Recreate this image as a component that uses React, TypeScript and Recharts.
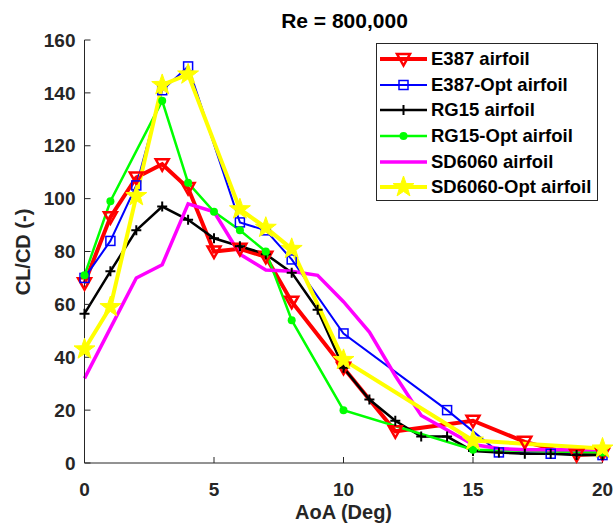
import React from 'react';
import { LineChart, Line, XAxis, YAxis, Legend } from 'recharts';

// angle of attack (deg) and CL/CD per airfoil, null = no sample at that angle
const aoa = [0, 1, 2, 3, 4, 5, 6, 7, 8, 9, 10, 11, 12, 13, 14, 15, 16, 17, 18, 19, 20];
const e387 = [68, 93, 108, 113, 104, 80, 81, 78, 61, null, 36, null, 12, null, null, 16, null, 8, null, 3, 3.5];
const e387Opt = [70, 84, 105, 141, 150, null, 91, 88, 77, null, 49, null, null, null, 20, null, 4, null, 3.5, null, 3];
const rg15 = [56.5, 72.5, 88, 97, 92, 85, 82, 79, 72, 58, 36, 24, 16, 10, 10, 4.5, 4, 3.5, 3.5, 3, 3];
const rg15Opt = [71, 99, null, 137, 106, 95, 88, 80, 54, null, 20, null, null, null, null, 5, null, null, null, null, 4];
const sd6060 = [32, 51, 70, 75, 98, 95, 79, 73, 72.5, 71, 61, 49.5, 33, 18, 12.5, 7, 5.5, 5, 5, 5, 5];
const sd6060Opt = [43, 59, 101, 143, 147, null, 96, 89, 81, null, 39, null, null, null, null, 8.5, null, null, null, null, 5.5];

const xTicks = [0, 5, 10, 15, 20];
const yTicks = [0, 20, 40, 60, 80, 100, 120, 140, 160];

const FONT = '"Liberation Sans", Arial, Helvetica, sans-serif';
const AXIS = '#262626';

type Shape = 'tri' | 'square' | 'plus' | 'dot' | 'none' | 'star';

const series: { key: string; name: string; values: (number | null)[]; color: string; width: number; shape: Shape }[] = [
  { key: 'e387', name: 'E387 airfoil', values: e387, color: '#ff0000', width: 4, shape: 'tri' },
  { key: 'e387Opt', name: 'E387-Opt airfoil', values: e387Opt, color: '#0000ff', width: 2, shape: 'square' },
  { key: 'rg15', name: 'RG15 airfoil', values: rg15, color: '#000000', width: 2.5, shape: 'plus' },
  { key: 'rg15Opt', name: 'RG15-Opt airfoil', values: rg15Opt, color: '#00ff00', width: 2.5, shape: 'dot' },
  { key: 'sd6060', name: 'SD6060 airfoil', values: sd6060, color: '#ff00ff', width: 3.5, shape: 'none' },
  { key: 'sd6060Opt', name: 'SD6060-Opt airfoil', values: sd6060Opt, color: '#ffff00', width: 4, shape: 'star' },
];

const data = aoa.map((a, i) => {
  const row: Record<string, number | null> = { aoa: a };
  series.forEach((s) => {
    row[s.key] = s.values[i];
  });
  return row;
});

function starPoints(cx: number, cy: number, ro: number, ri: number) {
  const pts: string[] = [];
  for (let k = 0; k < 10; k++) {
    const r = k % 2 === 0 ? ro : ri;
    const ang = -Math.PI / 2 + (k * Math.PI) / 5;
    pts.push(`${cx + r * Math.cos(ang)},${cy + r * Math.sin(ang)}`);
  }
  return pts.join(' ');
}

function Marker({ shape, color, cx, cy }: { shape: Shape; color: string; cx: number; cy: number }) {
  switch (shape) {
    case 'tri':
      return (
        <polygon
          points={`${cx - 6.5},${cy - 5} ${cx + 6.5},${cy - 5} ${cx},${cy + 6.5}`}
          fill="none"
          stroke={color}
          strokeWidth={2.5}
        />
      );
    case 'square':
      return <rect x={cx - 4.5} y={cy - 4.5} width={9} height={9} fill="none" stroke={color} strokeWidth={1.5} />;
    case 'plus':
      return <path d={`M${cx - 5},${cy}H${cx + 5}M${cx},${cy - 5}V${cy + 5}`} stroke={color} strokeWidth={2} />;
    case 'dot':
      return <circle cx={cx} cy={cy} r={4} fill={color} />;
    case 'star':
      return <polygon points={starPoints(cx, cy, 11, 4.4)} fill={color} stroke={color} strokeWidth={1} />;
    default:
      return null;
  }
}

const renderLegend = () => (
  <div
    style={{
      border: `1px solid ${AXIS}`,
      background: '#fff',
      width: 222,
      height: 158,
      boxSizing: 'border-box',
      paddingTop: 2,
      fontFamily: FONT,
    }}
  >
    {series.map((s) => (
      <div key={s.key} style={{ display: 'flex', alignItems: 'center', height: 25.7 }}>
        <svg width={54} height={24} style={{ flex: 'none' }}>
          <line x1={3} x2={50} y1={12} y2={12} stroke={s.color} strokeWidth={s.width} />
          <Marker shape={s.shape} color={s.color} cx={26.5} cy={12} />
        </svg>
        <span style={{ fontSize: 18.5, fontWeight: 'bold', color: '#000', whiteSpace: 'nowrap' }}>{s.name}</span>
      </div>
    ))}
  </div>
);

const tickStyle = { fontSize: 19, fontWeight: 'bold', fill: AXIS, fontFamily: FONT };

export default function App() {
  return (
    <div style={{ position: 'absolute', left: 0, top: 0, width: 616, height: 529, background: '#fff' }}>
      <LineChart
        width={616}
        height={529}
        data={data}
        margin={{ top: 40, right: 13.5, left: 0, bottom: 0 }}
        style={{ fontFamily: FONT }}
      >
        <XAxis
          dataKey="aoa"
          type="number"
          domain={[0, 20]}
          ticks={xTicks}
          height={66}
          tickSize={-6}
          tickMargin={26}
          stroke={AXIS}
          tick={tickStyle}
        />
        <XAxis
          xAxisId="top"
          orientation="top"
          type="number"
          domain={[0, 20]}
          ticks={xTicks}
          height={0}
          tickSize={-6}
          tick={false}
          stroke={AXIS}
        />
        <YAxis
          type="number"
          domain={[0, 160]}
          ticks={yTicks}
          width={84.5}
          tickSize={-6}
          tickMargin={15}
          stroke={AXIS}
          tick={tickStyle}
        />
        <YAxis
          yAxisId="right"
          orientation="right"
          type="number"
          domain={[0, 160]}
          ticks={yTicks}
          width={0}
          tickSize={-6}
          tick={false}
          stroke={AXIS}
        />
        <Legend
          content={renderLegend}
          layout="vertical"
          align="center"
          verticalAlign="middle"
          wrapperStyle={{ left: 376, top: 43, width: 222 }}
        />
        {series.map((s) => (
          <Line
            key={s.key}
            dataKey={s.key}
            name={s.name}
            stroke={s.color}
            strokeWidth={s.width}
            strokeLinejoin="miter"
            connectNulls
            isAnimationActive={false}
            activeDot={false}
            dot={(p: any) =>
              p.value == null || p.cy == null ? (
                <g key={`${s.key}-${p.index}`} />
              ) : (
                <g key={`${s.key}-${p.index}`}>
                  <Marker shape={s.shape} color={s.color} cx={p.cx} cy={p.cy} />
                </g>
              )
            }
          />
        ))}
      </LineChart>
      <svg
        width={616}
        height={529}
        style={{ position: 'absolute', left: 0, top: 0, pointerEvents: 'none', fontFamily: FONT }}
      >
        <text x={344.5} y={28} textAnchor="middle" fontSize={21} fontWeight="bold" fill="#000">
          Re = 800,000
        </text>
        <text x={343.5} y={519} textAnchor="middle" fontSize={20} fontWeight="bold" fill={AXIS}>
          AoA (Deg)
        </text>
        <text
          x={0}
          y={0}
          transform="translate(30,252) rotate(-90)"
          textAnchor="middle"
          fontSize={20}
          fontWeight="bold"
          fill={AXIS}
        >
          CL/CD (-)
        </text>
      </svg>
    </div>
  );
}
